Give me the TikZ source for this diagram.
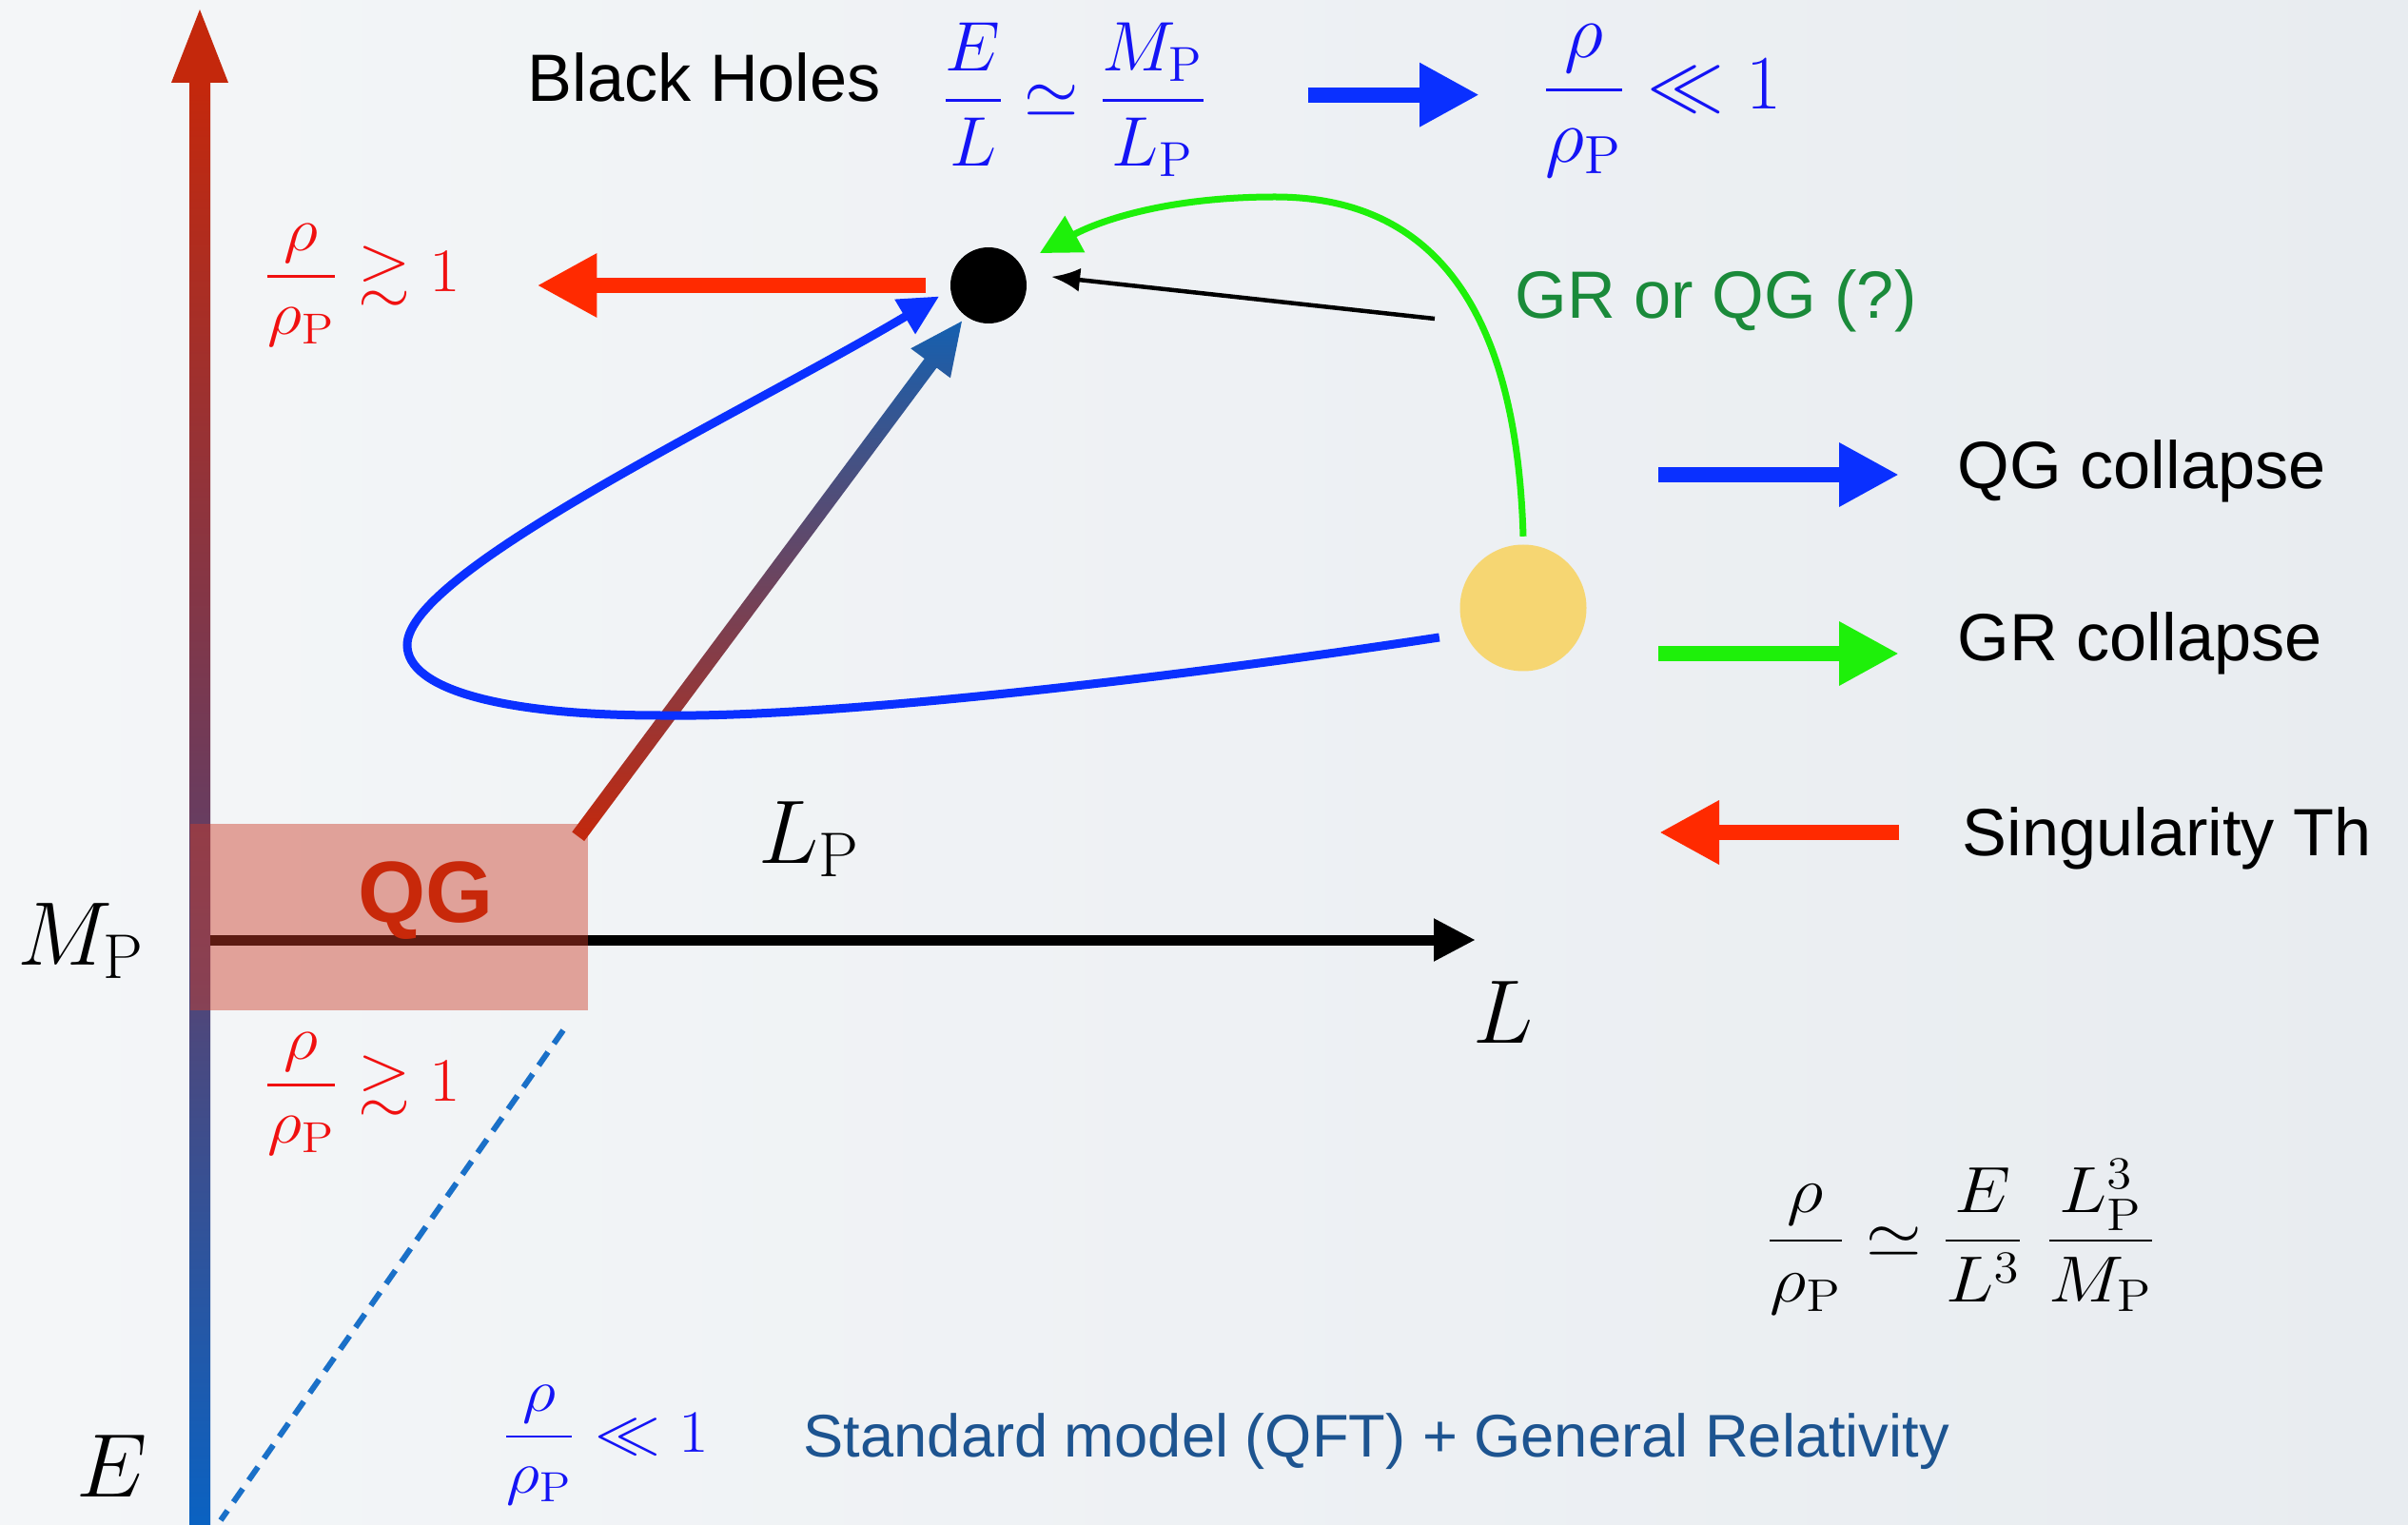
\RequirePackage{fix-cm}
\documentclass[tikz,border=0pt]{standalone}
\usepackage{amsmath,amssymb}
\usepackage[no-math]{fontspec}
\newfontfamily\helv{Liberation Sans}
\usepackage{xcolor}
\usetikzlibrary{arrows.meta,calc}
\definecolor{bgleft}{HTML}{F4F6F8}
\definecolor{bgright}{HTML}{E8ECF0}
\definecolor{axisred}{HTML}{C4280C}
\definecolor{axismid}{HTML}{6A3C5E}
\definecolor{axisblue}{HTML}{0A62C2}
\definecolor{diagblue}{HTML}{1560B0}
\definecolor{collblue}{HTML}{0A30FF}
\definecolor{collgreen}{HTML}{1EF00A}
\definecolor{singred}{HTML}{FF2A00}
\definecolor{mathblue}{HTML}{1414F5}
\definecolor{mathred}{HTML}{F01010}
\definecolor{qgfill}{HTML}{CC3C28}
\definecolor{qgtext}{HTML}{C8280A}
\definecolor{grtext}{HTML}{1A8A3A}
\definecolor{smtext}{HTML}{1D5490}
\definecolor{staryellow}{HTML}{F6D672}
\definecolor{dashblue}{HTML}{1A70C8}

\begin{document}
\begin{tikzpicture}[
  sanslab/.style={font=\helv\fontsize{20}{24}\selectfont, inner sep=0pt,
                  anchor=base west},
  mathlab/.style={inner sep=0pt, anchor=base west},
  widemath/.style={mathlab, xscale=1.09, transform shape},
  axislab/.style={font=\fontsize{27}{32}\selectfont, inner sep=0pt,
                  anchor=base west},
  bigarrow/.style={line width=0.16cm, -{Triangle[length=0.63cm,width=0.63cm]}},
  looparrow/.style={line width=0.09cm, -{Triangle[length=0.42cm,width=0.40cm]}},
  >=Latex
]

% ---- Background and frame ---------------------------------------------------
\shade[left color=bgleft, right color=bgright] (0,0) rectangle (25.31,-16.03);
\useasboundingbox (0,0) rectangle (25.31,-16.03);

% ---- Axes -------------------------------------------------------------------
\coordinate (Ebot) at (2.10,-16.03);
\coordinate (Etip) at (2.10,-0.10);
\shade[top color=axisred, bottom color=axisblue, middle color=axismid]
  ($(Ebot)+(-0.11,0)$) rectangle ($(Etip)+(0.11,-0.77)$);
\fill[axisred] ($(Etip)+(-0.30,-0.77)$) -- (Etip) -- ($(Etip)+(0.30,-0.77)$) -- cycle;

\coordinate (orig) at (2.21,-9.88);
\coordinate (Lend) at (15.51,-9.88);
\draw[line width=0.11cm, -{Triangle[length=0.44cm,width=0.42cm]}] (orig) -- (Lend);

\node[axislab] (MPlab) at (0.18,-10.14) {$M_{\mathrm{P}}$};
\node[axislab] (LPlab) at (7.97,-9.07) {$L_{\mathrm{P}}$};
\node[axislab] (Llab) at (15.48,-10.96) {$L$};
\node[axislab] (Elab) at (0.80,-15.73) {$E$};

% ---- Low-energy side ----------------------------------------------------------
\coordinate (dashtop) at (5.92,-10.83);
\coordinate (dashbot) at (2.32,-15.98);
\draw[dashblue, line width=0.06cm, dash pattern=on 0.17cm off 0.11cm]
  (dashtop) -- (dashbot);

\node[rectangle, fill=qgfill, fill opacity=0.45, minimum width=4.18cm,
      minimum height=1.96cm, inner sep=0pt] (qgbox) at (4.09,-9.64) {};
\node[font=\helv\bfseries\fontsize{26}{30}\selectfont, text=qgtext,
      inner sep=0pt, anchor=base west] (qglab) at (3.76,-9.69) {QG};

\node[widemath, font=\fontsize{18.5}{22}\selectfont, text=mathred] (rhohi)
  at (2.76,-3.07) {$\dfrac{\rho}{\rho_{\mathrm{P}}}\gtrsim 1$};
\node[widemath, font=\fontsize{18.5}{22}\selectfont, text=mathred] (rholo)
  at (2.76,-11.57) {$\dfrac{\rho}{\rho_{\mathrm{P}}}\gtrsim 1$};
\node[widemath, font=\fontsize{18}{22}\selectfont, text=mathblue] (rhoSM)
  at (5.27,-15.26) {$\dfrac{\rho}{\rho_{\mathrm{P}}}\ll 1$};
\node[sanslab, font=\helv\fontsize{18}{22}\selectfont, text=smtext] (SMlab)
  at (8.44,-15.31) {Standard model (QFT) + General Relativity};

\node[mathlab, xscale=1.1, transform shape, font=\fontsize{19.5}{23}\selectfont]
  (density) at (18.55,-13.21)
  {$\dfrac{\rho}{\rho_{\mathrm{P}}}\simeq\dfrac{E}{L^3}\;\dfrac{L_{\mathrm{P}}^3}{M_{\mathrm{P}}}$};

% ---- Black holes ----------------------------------------------------------------
\node[sanslab] (BHlab) at (5.54,-1.07) {Black Holes};
\node[mathlab, font=\fontsize{21}{25}\selectfont, text=mathblue] (bhform)
  at (9.89,-1.24) {$\dfrac{E}{L}\simeq\dfrac{M_{\mathrm{P}}}{L_{\mathrm{P}}}$};
\node[mathlab, font=\fontsize{23}{27}\selectfont, text=mathblue] (rhoBH)
  at (16.20,-1.15) {$\dfrac{\rho}{\rho_{\mathrm{P}}}\ll 1$};
\draw[collblue, bigarrow] ($(bhform.east)+(1.05,0.05)$)
  -- ($(bhform.east -| rhoBH.west)+(-0.65,0.05)$);

\node[circle, fill=black, minimum size=0.80cm, inner sep=0pt] (bhdot) at (10.39,-3.00) {};
\node[circle, fill=staryellow, minimum size=1.33cm, inner sep=0pt] (star) at (16.01,-6.39) {};

% ---- Collapse routes ------------------------------------------------------------
\coordinate (dgS) at ($(qgbox.north east)+(-0.11,-0.14)$);
\coordinate (dgT) at ($(bhdot.center)!0.47cm!(dgS)$);
\coordinate (dgH) at ($(dgT)!0.55cm!(dgS)$);
\shade[top color=diagblue, bottom color=axisred]
  ($(dgS)!0.08cm!90:(dgT)$) -- ($(dgH)!0.08cm!-90:(dgS)$)
  -- ($(dgH)!0.26cm!-90:(dgS)$) -- (dgT) -- ($(dgH)!0.26cm!90:(dgS)$)
  -- ($(dgH)!0.08cm!90:(dgS)$) -- ($(dgS)!0.08cm!-90:(dgT)$) -- cycle;

\draw[collblue, looparrow]
  ([xshift=-0.25cm,yshift=-0.08cm]star.200)
  .. controls (12.5,-7.10) and (8.8,-7.55) .. (6.94,-7.52)
  .. controls (5.3,-7.52) and (4.28,-7.25) .. (4.28,-6.78)
  .. controls (4.28,-6.0) and (7.8,-4.35) .. ([xshift=-0.12cm,yshift=-0.03cm]bhdot.192);

\draw[collgreen, line width=0.07cm, -{Triangle[length=0.42cm,width=0.42cm]}]
  ([yshift=0.08cm]star.north)
  .. controls (15.95,-3.6) and (15.3,-2.07) .. (13.40,-2.07)
  .. controls (12.2,-2.07) and (11.5,-2.35) .. ([shift={(0.21,0.10)}]bhdot.36);

\node[sanslab, text=grtext] (grq) at (15.92,-3.35) {GR or QG (?)};
\draw[line width=0.045cm, -{Latex[length=0.30cm,width=0.25cm]}]
  ([xshift=-0.84cm]grq.base west) -- ([shift={(0.26,0.02)}]bhdot.10);

\draw[singred, bigarrow] ([xshift=-0.25cm]bhdot.west)
  -- ($(bhdot.west -| rhohi.east)+(0.80,0)$);

% ---- Legend -----------------------------------------------------------------------
\node[sanslab] (qgleg) at (20.57,-5.14) {QG collapse};
\node[sanslab] (grleg) at (20.57,-6.95) {GR collapse};
\node[sanslab] (singleg) at (20.62,-9.00) {Singularity Th};

\draw[collblue, bigarrow] ($(qgleg.base west)+(-3.14,0.15)$) -- ($(qgleg.base west)+(-0.61,0.15)$);
\draw[collgreen, bigarrow] ($(grleg.base west)+(-3.14,0.08)$) -- ($(grleg.base west)+(-0.61,0.08)$);
\draw[singred, bigarrow] ($(singleg.base west)+(-0.66,0.25)$) -- ($(singleg.base west)+(-3.18,0.25)$);

\end{tikzpicture}
\end{document}
